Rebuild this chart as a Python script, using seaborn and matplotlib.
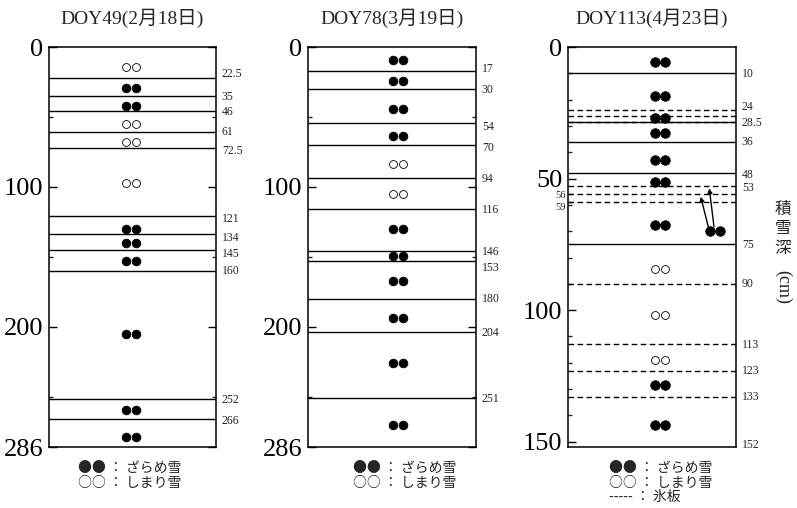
import matplotlib
matplotlib.use("Agg")
import matplotlib.pyplot as plt
import matplotlib.transforms as mtransforms
from matplotlib.ticker import FixedLocator, FixedFormatter
import seaborn as sns
import pandas as pd

# ---------------- data ----------------
titles = ["DOY49(2月18日)", "DOY78(3月19日)", "DOY113(4月23日)"]
depth_max = [286, 286, 152]

p1_solid = [22.5, 35, 46, 61, 72.5, 121, 134, 145, 160, 252, 266]
p1_dashed = []
p1_labels = ["22.5", "35", "46", "61", "72.5", "121", "134", "145", "160", "252", "266"]
p1_label_depth = [19.5, 35.8, 46.5, 60.8, 74.4, 123, 136.6, 148, 160.2, 252.4, 267.4]
p1_marker_depth = [14, 29, 42, 55, 68, 97, 130, 140, 153, 205, 259.5, 279]
p1_marker_type = ["しまり雪", "ざらめ雪", "ざらめ雪", "しまり雪", "しまり雪", "しまり雪",
                  "ざらめ雪", "ざらめ雪", "ざらめ雪", "ざらめ雪", "ざらめ雪", "ざらめ雪"]

p2_solid = [17, 30, 54, 70, 94, 116, 146, 153, 180, 204, 251]
p2_dashed = []
p2_labels = ["17", "30", "54", "70", "94", "116", "146", "153", "180", "204", "251"]
p2_label_depth = [16, 30.7, 57.4, 72.2, 94.4, 116.6, 146.5, 158, 180.2, 204.5, 252]
p2_marker_depth = [9.3, 24.3, 44, 63.6, 83.6, 105, 130, 149.4, 167, 193.6, 226, 270]
p2_marker_type = ["ざらめ雪", "ざらめ雪", "ざらめ雪", "ざらめ雪", "しまり雪", "しまり雪",
                  "ざらめ雪", "ざらめ雪", "ざらめ雪", "ざらめ雪", "ざらめ雪", "ざらめ雪"]

p3_solid = [10, 28.5, 36, 48, 75]
p3_dashed = [24, 26.2, 28.5, 53, 56, 59, 90, 113, 123, 133]
p3_labels = ["10", "24", "28.5", "36", "48", "53", "75", "90", "113", "123", "133", "152"]
p3_label_depth = [10.3, 22.8, 28.9, 36.1, 48.6, 53.6, 75.2, 90, 113.2, 123, 132.9, 151.2]
p3_marker_depth = [5.7, 18.6, 26.8, 32.7, 42.9, 51.3, 67.6, 84.3, 101.8, 118.9, 128.4, 143.6]
p3_marker_type = ["ざらめ雪"] * 7 + ["しまり雪"] * 3 + ["ざらめ雪"] * 2
p3_extra_depth = [69.9]
p3_extra_type = ["ざらめ雪"]
p3_left_ticks = [56, 59]
p3_left_labels = ["56", "59"]
p3_left_label_depth = [56.3, 61.0]

ylabel = "積雪深"
ylabel_unit = "(cm)"
legend_lines = [["●● ： ざらめ雪", "○○ ： しまり雪"],
                ["●● ： ざらめ雪", "○○ ： しまり雪"],
                ["●● ： ざらめ雪", "○○ ： しまり雪", "----- ： 氷板"]]

# ---------------- style ----------------
sns.set_style("white")
plt.rcParams["font.family"] = ["Liberation Serif", "Noto Sans CJK JP", "DejaVu Sans"]
CJK = ["Noto Sans CJK JP", "DejaVu Sans"]

fig = plt.figure(figsize=(7.97, 5.08), dpi=100)
W, H = 797, 508
lefts = [49, 308, 568]
widths = [167, 168, 168]
top, bottom = 47, 447
marker_xc = [0.49, 0.534, 0.55]
legend_x = [0.174, 0.266, 0.244]

panels = [
    (p1_solid, p1_dashed, p1_label_depth, p1_labels, p1_marker_depth, p1_marker_type),
    (p2_solid, p2_dashed, p2_label_depth, p2_labels, p2_marker_depth, p2_marker_type),
    (p3_solid, p3_dashed, p3_label_depth, p3_labels, p3_marker_depth, p3_marker_type),
]

dx = 0.03
for i, (solid, dashed, ldep, labs, mdep, mtype) in enumerate(panels):
    ax = fig.add_axes([lefts[i] / W, 1 - bottom / H, widths[i] / W, (bottom - top) / H])
    ax.set_xlim(0, 1)
    ax.set_ylim(depth_max[i], 0)
    for s in ax.spines.values():
        s.set_color("black")
        s.set_linewidth(1.1)
        s.set_visible(True)

    for d in solid:
        ax.axhline(d, color="black", lw=1.0)
    for d in dashed:
        ax.axhline(d, color="black", lw=1.0, ls=(0, (4, 2.5)))

    # markers
    rows = []
    for d, t in zip(mdep, mtype):
        rows.append({"x": marker_xc[i] - dx, "depth": d, "type": t})
        rows.append({"x": marker_xc[i] + dx, "depth": d, "type": t})
    if i == 2:
        for d, t in zip(p3_extra_depth, p3_extra_type):
            rows.append({"x": 0.877 - dx, "depth": d, "type": t})
            rows.append({"x": 0.877 + dx, "depth": d, "type": t})
    df = pd.DataFrame(rows)
    fz = df[df["type"] == "ざらめ雪"]
    op = df[df["type"] == "しまり雪"]
    size_f = 48 if i == 2 else 40
    if len(fz):
        sns.scatterplot(data=fz, x="x", y="depth", ax=ax, color="black",
                        edgecolor="black", s=size_f, linewidth=0.5, legend=False, zorder=3)
    if len(op):
        sns.scatterplot(data=op, x="x", y="depth", ax=ax, color="white",
                        edgecolor="black", s=32, linewidth=0.6, legend=False, zorder=3)
    ax.set_xlabel("")
    ax.set_ylabel("")
    ax.set_xlim(0, 1)
    ax.set_ylim(depth_max[i], 0)
    ax.set_xticks([])

    # ticks
    if i < 2:
        ax.set_yticks([0, 100, 200, 286])
        ax.set_yticklabels(["0", "100", "200", "286"])
        ax.yaxis.set_minor_locator(FixedLocator([50, 150, 250]))
        ax.tick_params(axis="y", which="major", direction="in", length=6, width=1.0,
                       left=True, right=True, labelsize=19, pad=4, colors="black")
        ax.tick_params(axis="y", which="minor", direction="in", length=3, width=1.0,
                       left=True, right=True)
    else:
        ax.set_yticks([0, 50, 100, 150])
        ax.set_yticklabels(["0", "50", "100", "150"])
        minors = sorted([10, 20, 30, 40, 60, 70, 80, 90, 110, 120, 130, 140] + p3_left_ticks)
        ax.yaxis.set_minor_locator(FixedLocator(minors))
        ax.yaxis.set_minor_formatter(FixedFormatter([""] * len(minors)))
        ax.tick_params(axis="y", which="major", direction="in", length=6, width=1.0,
                       left=True, right=False, labelsize=19, pad=4, colors="black")
        ax.tick_params(axis="y", which="minor", direction="in", length=3, width=1.0,
                       left=True, right=False)
        transL = mtransforms.blended_transform_factory(ax.transAxes, ax.transData)
        for d, lab in zip(p3_left_label_depth, p3_left_labels):
            ax.text(-0.015, d, lab, transform=transL, ha="right", va="center", fontsize=7.5)

    # right-hand boundary labels
    trans = mtransforms.blended_transform_factory(ax.transAxes, ax.transData)
    for d, lab in zip(ldep, labs):
        ax.text(1.035, d, lab, transform=trans, ha="left", va="center", fontsize=8.5)

    # title
    ax.text(0.5, 1.0 + 29 / 400, titles[i], transform=ax.transAxes, ha="center",
            va="center", fontsize=14)

    # legend text
    for k, line in enumerate(legend_lines[i]):
        ypix = 468 + k * 14.5
        fig.text((lefts[i] + legend_x[i] * widths[i]) / W, 1 - ypix / H, line,
                 ha="left", va="center", fontsize=10, family=CJK)

    if i == 2:
        arrow_kw = dict(arrowstyle="-|>", lw=1.0, color="black", mutation_scale=7,
                        shrinkA=0, shrinkB=0)
        ax.annotate("", xy=(0.79, 56.9), xytext=(0.835, 68.3), arrowprops=arrow_kw)
        ax.annotate("", xy=(0.841, 53.7), xytext=(0.869, 68.3), arrowprops=arrow_kw)

# vertical y label on the right
for k, ch in enumerate(ylabel):
    fig.text(783 / W, 1 - (209 + k * 19.5) / H, ch, ha="center", va="center",
             fontsize=12, family=CJK)
fig.text(783 / W, 1 - 287 / H, ylabel_unit, ha="center", va="center",
         fontsize=13, rotation=-90)

fig.savefig("out.png", dpi=100)
